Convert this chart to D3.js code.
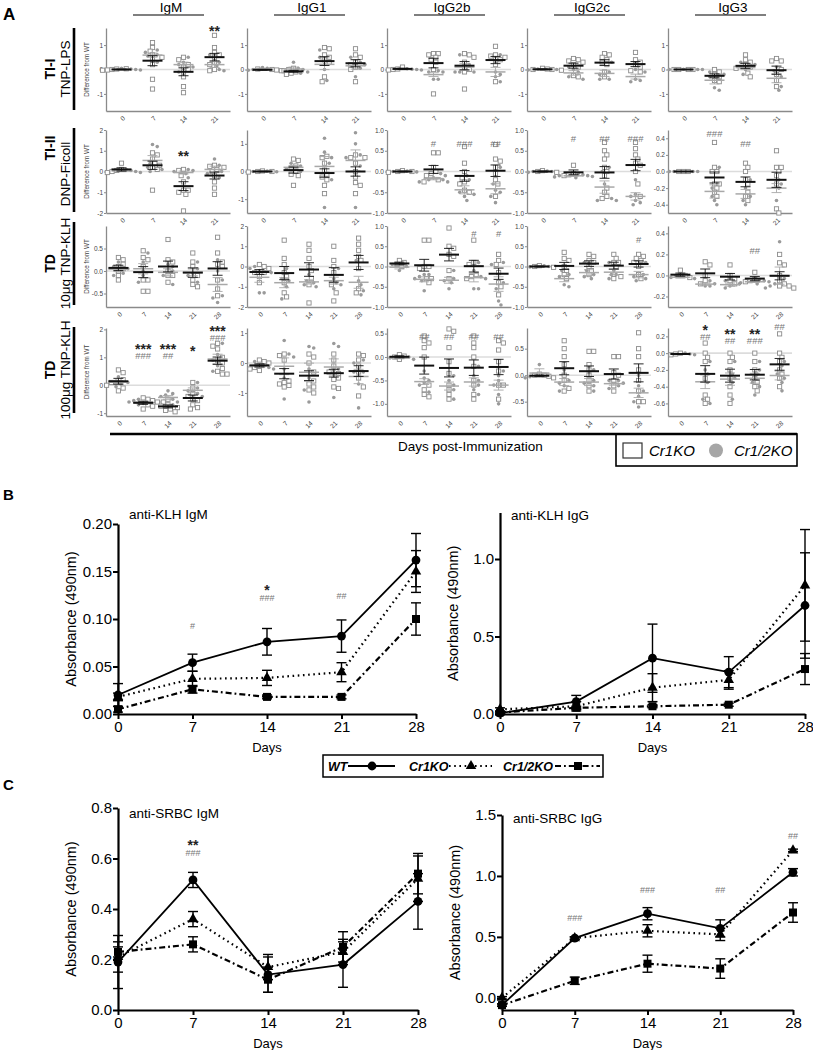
<!DOCTYPE html>
<html><head><meta charset="utf-8">
<script src="https://cdn.jsdelivr.net/npm/d3@7"></script>
<style>body{margin:0;background:#fff;}</style>
</head><body>
<svg id="c" width="813" height="1050" xmlns="http://www.w3.org/2000/svg"></svg>
<script>
// ---------------- DATA ----------------
const isotypes = ["IgM","IgG1","IgG2b","IgG2c","IgG3"];
const days4 = [0,7,14,21];
const days5 = [0,7,14,21,28];
const rowBold = ["TI-I","TI-II","TD","TD"];
const rowSub = ["TNP-LPS","DNP-Ficoll","10μg TNP-KLH","100μg TNP-KLH"];
const groupNames = ["Cr1KO","Cr1/2KO"];

// Panel A: difference from WT, per day; cr1 = Cr1KO (open squares), cr12 = Cr1/2KO (grey dots)
const r1_IgM_cr1 = [[0.02,-0.02,0.0,0.03,-0.03],[1.1,0.9,0.75,0.6,0.4,0.2,-0.4,-0.8,0.5],[0.5,0.4,0.2,0.0,-0.1,-0.3,-0.7,-0.95,0.1],[1.4,0.9,0.7,0.6,0.5,0.3,0.0,-0.05,0.2]];
const r1_IgM_cr12 = [[0.05,0.0,-0.02,0.02],[0.8,0.7,0.55,0.3,0.6],[0.5,0.3,0.1,-0.1,0.2],[0.6,0.3,0.0,-0.05,0.15]];
const r1_IgG1_cr1 = [[0.0,-0.05,0.02,-0.02],[-0.1,-0.15,0.0,-0.2,-0.05,0.05],[0.9,0.85,0.6,0.5,0.3,-0.3,-0.5,0.4],[0.85,0.6,0.5,0.3,0.0,-0.5,0.2,0.1]];
const r1_IgG1_cr12 = [[0.05,-0.03,0.0,0.08],[0.3,-0.1,0.0,-0.15,0.05],[0.8,0.5,0.2,-0.45,0.0],[0.5,0.3,-0.3,0.05,0.2]];
const r1_IgG2b_cr1 = [[0.1,0.0,-0.02,0.02],[0.65,0.65,0.6,0.5,0.4,0.3,-1.0,0.0],[0.65,0.6,0.5,0.3,0.1,-0.1,-0.8,0.0],[0.95,0.6,0.55,0.5,0.4,0.2,-0.5,0.4]];
const r1_IgG2b_cr12 = [[0.0,0.03,-0.02,0.01],[-0.1,-0.4,-0.4,-0.05,-0.1],[0.6,-0.1,-0.1,-0.1,0.2],[0.6,-0.1,-0.2,-0.3,-0.5]];
const r1_IgG2c_cr1 = [[0.0,0.05,-0.03,0.02,0.0],[0.45,0.4,0.35,0.3,0.2,0.1,-0.3,-0.25],[0.65,0.6,0.5,0.3,0.2,-0.1,-0.3,0.4],[0.7,0.4,0.2,0.1,-0.05,-0.1,0.3]];
const r1_IgG2c_cr12 = [[0.0,-0.02,0.02],[0.1,-0.4,-0.3,0.0,-0.1],[0.3,-0.4,-0.4,-0.2,-0.1],[-0.5,-0.45,-0.4,-0.1,0.0]];
const r1_IgG3_cr1 = [[0,0,0,0],[-0.1,-0.2,-0.3,-0.45,-0.5,0.0],[0.6,0.4,0.3,0.2,0.1,-0.15,-0.3,0.05],[0.45,0.35,0.35,0.0,-0.2,-0.45,-0.7]];
const r1_IgG3_cr12 = [[0,0,0,0.01],[-0.85,-0.75,-0.3,-0.2,-0.1],[0.3,0.2,0.0,-0.2,0.1],[-0.85,-0.7,-0.3,-0.05,0.1]];

const r2_IgM_cr1 = [[0.4,0.05,0.0,-0.05,0.1],[0.9,0.8,0.6,0.4,0.2,0.1,-0.9,0.3],[0.1,0.05,-0.2,-0.5,-0.9,-0.9,-1.0,-1.1,-1.9],[0.3,0.25,0.1,0.0,-0.2,-0.5,-0.8,-1.1,0.2]];
const r2_IgM_cr12 = [[0.1,0.0,-0.05,0.05],[1.3,1.2,0.4,0.2,0.1,0.0],[0.0,-0.1,-0.3,0.05,0.1],[0.6,0.3,0.0,-0.3,-0.1]];
const r2_IgG1_cr1 = [[0.0,0.02,-0.02,0.0],[0.45,0.4,0.2,0.1,-0.1,-0.15,-0.5,0.0],[0.55,0.5,0.3,0.05,-0.2,-0.3,-0.5,-0.8,-0.1],[0.6,0.5,0.3,0.0,-0.2,-0.4,-0.5,-0.8,0.5]];
const r2_IgG1_cr12 = [[0.0,0.02,-0.01],[0.3,0.1,0.0,0.2],[1.2,0.7,0.5,0.3,-0.3,-1.3],[1.4,1.0,0.6,0.5,0.2,-1.3]];
const r2_IgG2b_cr1 = [[0.0,0.02,-0.02,0.0],[0.45,0.45,0.1,0.0,-0.05,-0.1,-0.2,-0.25],[0.6,0.2,0.0,-0.15,-0.25,-0.3,-0.45,-0.5],[0.65,0.3,0.25,0.1,-0.05,-0.3,-0.6,-0.2]];
const r2_IgG2b_cr12 = [[0,-0.01,0.01],[-0.25,-0.25,-0.2,-0.15,-0.1,-0.2,-0.05],[-0.5,-0.6,-0.7,-0.55,-0.2,-0.1],[-0.45,-0.6,-0.75,-0.5,-0.3,0.1]];
const r2_IgG2c_cr1 = [[0.0,0.02,-0.02],[0.15,-0.05,-0.08,-0.1],[0.7,0.5,0.4,0.3,0.1,-0.1,-0.5,-0.6,-0.65,-0.4,0.0],[0.7,0.55,0.4,0.2,0.15,0.0,-0.3,-0.6,0.3]];
const r2_IgG2c_cr12 = [[0,-0.02,0.01,0],[-0.1,-0.12,-0.15,-0.1,-0.08,-0.13,-0.05],[0.0,-0.3,-0.65,-0.7,-0.7,0.1],[-0.55,-0.7,-0.8,-0.75,-0.2,-0.6]];
const r2_IgG3_cr1 = [[0,0,0],[0.35,0.05,0.0,-0.15,-0.2,-0.25,-0.3,-0.15,0.0],[0.1,0.05,0.0,-0.1,-0.15,-0.25,-0.35,-0.3],[0.25,0.05,0.0,-0.05,-0.15,-0.45,-0.5,0.05]];
const r2_IgG3_cr12 = [[0,0,0,0],[0.05,-0.2,-0.35,-0.4,-0.3],[-0.2,-0.3,-0.35,-0.4,-0.1],[-0.2,-0.35,-0.1,-0.15]];

const r3_IgM_cr1 = [[0.3,0.25,0.15,0.1,0.0,-0.1,-0.2,0.05],[0.45,0.3,0.25,0.1,-0.2,-0.45,-0.45,-0.2],[0.7,0.25,0.2,0.0,-0.1,-0.25,-0.1],[0.4,0.2,0.1,-0.1,-0.2,-0.3,-0.35],[0.75,0.4,0.2,0.15,0.1,-0.2,-0.55,-0.4]];
const r3_IgM_cr12 = [[0.2,0.05,-0.05,-0.1,0.1],[0.4,0.2,0.0,-0.25,-0.1],[0.15,0.0,-0.1,-0.3,0.1],[0.2,0.05,-0.1,-0.25,-0.05],[0.25,-0.55,-0.6,-0.7,-0.2,0.0]];
const r3_IgG1_cr1 = [[0.1,0.0,-0.1,-0.3,-0.5,-0.8,-0.3],[1.3,0.4,0.1,-0.3,-0.5,-0.8,-1.5,-1.3],[1.1,0.8,0.4,0.0,-0.2,-0.6,-0.9,-1.8],[1.0,0.3,0.0,-0.3,-0.9,-1.3,-1.7],[1.4,1.1,0.8,0.3,-0.1,-1.3,-1.1,0.5]];
const r3_IgG1_cr12 = [[-0.2,-0.3,-1.3,-1.3,0.0,-0.1],[-0.1,-0.7,-1.0,-1.6,-0.6],[-0.4,-0.8,-1.0,-0.7,-0.9],[-0.1,-0.8,-1.1,-0.6,-0.9],[-0.7,-1.2,-1.4,-0.9,0.3]];
const r3_IgG2b_cr1 = [[0.15,0.1,0.05,0.0],[0.65,0.65,0.0,0.0,-0.05,-0.3,-0.4,-0.3],[0.95,0.5,0.45,0.3,0.25,-0.1,-0.3],[0.65,0.1,0.05,-0.2,-0.3,-0.25],[0.3,0.15,0.05,-0.15,-0.4,-0.5,-0.7]];
const r3_IgG2b_cr12 = [[0.05,0.0,-0.1],[-0.2,-0.2,-0.3,-0.35,-0.25,-0.6],[-0.1,-0.35,-0.4,-0.55,-0.3],[0.1,-0.1,-0.25,-0.3,-0.55,-0.55],[0.1,-0.4,-0.55,-0.95,-0.85,0.05]];
const r3_IgG2c_cr1 = [[0.02,0.0,-0.02],[0.35,0.2,0.15,0.0,-0.1,-0.2,-0.3],[0.3,0.25,0.15,0.1,0.0,-0.1,-0.2],[0.3,0.2,0.1,0.1,0.0,-0.25,-0.3],[0.25,0.2,0.15,0.1,0.0,-0.2,-0.3,0.3]];
const r3_IgG2c_cr12 = [[0.0,0.02,-0.01],[-0.1,-0.2,-0.45,-0.5,-0.25],[0.1,-0.1,-0.2,-0.25,-0.3],[0.1,-0.1,-0.2,-0.3,-0.2],[0.1,-0.2,-0.3,-0.35,-0.25]];
const r3_IgG3_cr1 = [[0.05,0.0,-0.02,0.0],[0.13,0.1,0.0,-0.05,-0.08],[0.1,0.0,-0.03,-0.05,-0.08],[0.03,-0.04,-0.05,-0.06],[0.2,0.12,0.1,0.0,-0.05,-0.1,-0.1,-0.08,-0.12]];
const r3_IgG3_cr12 = [[0.0,-0.02,-0.03],[-0.08,-0.1,-0.05,-0.1],[-0.05,-0.1,-0.12,-0.08],[-0.04,-0.06,-0.07,-0.08,-0.05],[0.32,-0.03,-0.08,-0.12,-0.1]];

const r4_IgM_cr1 = [[0.55,0.45,0.2,0.1,0.0,-0.1,-0.2],[-0.45,-0.5,-0.6,-0.7,-0.85,-0.55,-0.75],[-0.5,-0.6,-0.7,-0.8,-0.9,-0.95,-0.85,-0.75],[0.1,-0.1,-0.3,-0.4,-0.5,-0.7,-0.85,-0.8,-0.55],[1.5,1.4,1.3,1.0,0.9,0.8,0.6,0.5,0.4,0.4]];
const r4_IgM_cr12 = [[0.3,0.1,0.05,-0.05,0.15],[-0.5,-0.55,-0.6,-0.65,-0.7,-0.6],[-0.2,-0.3,-0.4,-0.6,-0.7,-0.5,-0.35],[0.1,-0.2,-0.3,-0.4,-0.1],[1.5,1.1,0.9,0.7,0.5]];
const r4_IgG1_cr1 = [[0.1,0.05,0.0,-0.1,-0.15,-0.2,-0.25],[0.3,0.25,0.1,-0.6,-0.7,-0.75,-0.8,-0.65],[0.3,0.2,0.0,-0.3,-0.6,-0.7,-0.9,-1.0,-0.8],[0.3,0.1,-0.1,-0.3,-0.5,-0.8,-0.85,-0.55,-0.35],[0.3,0.25,0.1,-0.1,-0.5,-0.8,-1.1,-0.3]];
const r4_IgG1_cr12 = [[0.05,-0.1,-0.15,-0.2],[0.75,0.3,-0.2,-1.2,-0.5,0.2],[0.55,0.5,-0.2,-1.3,-0.5,-0.9],[0.65,0.55,-0.2,-1.15,-0.4,-0.25],[0.1,-0.3,-0.7,-1.5,-0.3,0.0]];
const r4_IgG2b_cr1 = [[0.05,0.0,-0.05,0.02],[0.45,0.35,0.3,0.2,0.0,-0.8,-0.85,-0.7,-0.6],[0.6,0.55,0.2,-0.1,-0.35,-0.6,-0.8,-0.9,-0.7],[0.45,0.3,0.2,0.0,-0.2,-0.5,-0.8,-0.9,-0.6],[0.35,0.3,0.15,-0.1,-0.3,-0.6,-0.9,-0.6]];
const r4_IgG2b_cr12 = [[0.0,-0.02,-0.05],[-0.3,-0.5,-0.55,-0.6,-0.75,-0.45],[-0.4,-0.6,-0.7,-0.9,-0.5],[-0.4,-0.5,-0.6,-0.7,-0.8,-0.2],[-0.3,-0.5,-0.6,-0.8,-1.0,-0.4]];
const r4_IgG2c_cr1 = [[0.0,-0.02,-0.05,0.02,0.0],[0.65,0.5,0.35,0.2,0.0,-0.1,-0.25,-0.3],[0.45,0.45,0.2,0.0,-0.1,-0.2,-0.3,0.1],[0.35,0.35,0.05,0.0,-0.1,-0.2,-0.3],[0.8,0.5,0.35,0.1,-0.1,-0.3,-0.5,-0.5]];
const r4_IgG2c_cr12 = [[0.2,-0.05,-0.03],[0.1,-0.15,-0.2,-0.3,-0.1],[0.1,-0.1,-0.2,-0.3,-0.15],[-0.1,-0.15,-0.2,-0.25,-0.1],[0.0,-0.3,-0.4,-0.5,-0.6,-0.2]];
const r4_IgG3_cr1 = [[0.0,-0.01,-0.02],[0.12,0.0,-0.05,-0.1,-0.3,-0.5,-0.6,-0.55],[0.0,-0.05,-0.1,-0.2,-0.4,-0.5,-0.6,-0.3],[0.0,-0.1,-0.2,-0.3,-0.4,-0.45,-0.35],[0.23,0.0,-0.05,-0.1,-0.25,-0.3,-0.4,-0.2]];
const r4_IgG3_cr12 = [[-0.02,-0.01,0.0],[-0.1,-0.2,-0.35,-0.55,-0.6,-0.25],[-0.1,-0.25,-0.3,-0.55,-0.35],[-0.1,-0.2,-0.25,-0.35,-0.4,-0.5],[-0.1,-0.15,-0.3,-0.35,-0.45,-0.25]];

// y-axis tick labels of panel A (row x isotype)
const yTicksA = [
 [[-1,0,1],[-1,0,1],[-1,0,1],[-1,0,1],[-1,0,1]],
 [[-2,-1,0,1,2],[-1,0,1],[-1,-0.5,0,0.5,1],[-1,-0.5,0,0.5,1],[-0.4,-0.2,0,0.2,0.4]],
 [[-0.5,0,0.5],[-2,-1,0,1,2],[-1,-0.5,0,0.5,1],[-1,-0.5,0,0.5,1],[-0.2,0,0.2,0.4]],
 [[-1,0,1,2],[-1,0,1],[-1,-0.5,0,0.5],[-0.5,0,0.5],[-0.6,-0.4,-0.2,0,0.2]]
];
// significance marks in panel A: [row, isotype, day index, stars, hashes, anchor value]
const sigA = [
 [0,0,3,"**","",1.24],
 [1,0,2,"**","",0.35],
 [1,2,1,"","#",0.60],[1,2,2,"","###",0.60],[1,2,3,"","##",0.60],
 [1,3,1,"","#",0.72],[1,3,2,"","##",0.72],[1,3,3,"","###",0.72],
 [1,4,1,"","###",0.42],[1,4,2,"","##",0.30],
 [2,2,3,"","#",0.72],[2,2,4,"","#",0.72],
 [2,3,4,"","#",0.57],
 [2,4,3,"","##",0.20],
 [3,0,1,"***","###",0.94],[3,0,2,"***","##",0.94],[3,0,3,"*","",0.94],[3,0,4,"***","###",1.60],
 [3,2,1,"","##",0.37],[3,2,2,"","##",0.37],[3,2,3,"","##",0.37],[3,2,4,"","##",0.37],
 [3,4,1,"*","##",0.16],[3,4,2,"**","##",0.11],[3,4,3,"**","###",0.11],[3,4,4,"","##",0.28]
];

// Panels B and C: absorbance (490nm), mean and error
const bcDays = [0,7,14,21,28];
const seriesNames = ["WT","Cr1KO","Cr1/2KO"];
const klhIgM_WT = [0.020,0.054,0.076,0.082,0.162], klhIgM_WT_err = [0.012,0.009,0.014,0.017,0.028];
const klhIgM_Cr1 = [0.018,0.037,0.038,0.044,0.150], klhIgM_Cr1_err = [0.004,0.008,0.008,0.010,0.022];
const klhIgM_Cr12 = [0.005,0.026,0.018,0.018,0.100], klhIgM_Cr12_err = [0.003,0.004,0.002,0.002,0.017];
const klhIgG_WT = [0.005,0.08,0.36,0.27,0.70], klhIgG_WT_err = [0.01,0.04,0.22,0.10,0.34];
const klhIgG_Cr1 = [0.03,0.05,0.17,0.22,0.83], klhIgG_Cr1_err = [0.01,0.03,0.09,0.06,0.36];
const klhIgG_Cr12 = [0.01,0.04,0.05,0.06,0.29], klhIgG_Cr12_err = [0.005,0.01,0.01,0.01,0.10];
const srbcIgM_WT = [0.19,0.515,0.14,0.18,0.43], srbcIgM_WT_err = [0.105,0.03,0.07,0.09,0.11];
const srbcIgM_Cr1 = [0.21,0.36,0.17,0.23,0.52], srbcIgM_Cr1_err = [0.06,0.03,0.05,0.05,0.09];
const srbcIgM_Cr12 = [0.23,0.26,0.12,0.25,0.54], srbcIgM_Cr12_err = [0.02,0.03,0.05,0.06,0.08];
const srbcIgG_WT = [-0.06,0.49,0.69,0.57,1.03], srbcIgG_WT_err = [0.01,0.01,0.05,0.07,0.03];
const srbcIgG_Cr1 = [0.0,0.49,0.55,0.52,1.21], srbcIgG_Cr1_err = [0.01,0.01,0.05,0.05,0.01];
const srbcIgG_Cr12 = [-0.06,0.14,0.28,0.24,0.70], srbcIgG_Cr12_err = [0.01,0.03,0.07,0.08,0.08];
// significance marks: [day index, stars, hashes, anchor value]
const sigKlhIgM = [[1,"","#",0.089],[2,"*","###",0.119],[3,"","##",0.121]];
const sigKlhIgG = [];
const sigSrbcIgM = [[1,"**","###",0.61]];
const sigSrbcIgG = [[1,"","###",0.63],[2,"","###",0.86],[3,"","##",0.86],[4,"","##",1.30]];

// ---------------- DRAWING ----------------
const FONT = "'Liberation Sans', Arial, Helvetica, sans-serif";
const svg = d3.select("#c").attr("font-family", FONT);
const fmtM = f => { const ff = d3.format(f); return v => ff(v).replace("\u2212","-"); };

// stacked significance label (stars over hashes) as a single text element
function sigLabel(g, cx, ay, stars, hashes, starSize, hashSize, gap){
  const t = g.append("text").attr("text-anchor","middle");
  if(stars && hashes){
    t.attr("x",cx).attr("y",ay-gap);
    t.append("tspan").attr("x",cx).attr("font-size",starSize).attr("font-weight","bold").attr("fill","#222").text(stars);
    t.append("tspan").attr("x",cx).attr("dy",gap).attr("font-size",hashSize).attr("fill","#777").text(hashes);
  } else if(stars){
    t.attr("x",cx).attr("y",ay-3).attr("font-size",starSize).attr("font-weight","bold").attr("fill","#222").text(stars);
  } else {
    t.attr("x",cx).attr("y",ay).attr("font-size",hashSize).attr("fill","#777").text(hashes);
  }
}

const panelA = [
 [[r1_IgM_cr1,r1_IgM_cr12],[r1_IgG1_cr1,r1_IgG1_cr12],[r1_IgG2b_cr1,r1_IgG2b_cr12],[r1_IgG2c_cr1,r1_IgG2c_cr12],[r1_IgG3_cr1,r1_IgG3_cr12]],
 [[r2_IgM_cr1,r2_IgM_cr12],[r2_IgG1_cr1,r2_IgG1_cr12],[r2_IgG2b_cr1,r2_IgG2b_cr12],[r2_IgG2c_cr1,r2_IgG2c_cr12],[r2_IgG3_cr1,r2_IgG3_cr12]],
 [[r3_IgM_cr1,r3_IgM_cr12],[r3_IgG1_cr1,r3_IgG1_cr12],[r3_IgG2b_cr1,r3_IgG2b_cr12],[r3_IgG2c_cr1,r3_IgG2c_cr12],[r3_IgG3_cr1,r3_IgG3_cr12]],
 [[r4_IgM_cr1,r4_IgM_cr12],[r4_IgG1_cr1,r4_IgG1_cr12],[r4_IgG2b_cr1,r4_IgG2b_cr12],[r4_IgG2c_cr1,r4_IgG2c_cr12],[r4_IgG3_cr1,r4_IgG3_cr12]]
];
const rowDays = [days4, days4, days5, days5];
const colX = [106,247,387,527,668], panelW = 124;
const rowTop = [28,130,226,328], rowBot = [111,213,307,416];
const yDomA = [
 [[-1.7,1.7],[-1.7,1.7],[-1.7,1.7],[-1.7,1.7],[-1.7,1.7]],
 [[-2,2],[-1.5,1.5],[-1,1],[-1,1],[-0.5,0.5]],
 [[-0.8,1.0],[-2,2],[-1,1],[-1,1],[-0.3,0.47]],
 [[-1.1,2.05],[-1.77,1.17],[-1.26,0.62],[-0.77,0.89],[-0.75,0.3]]
];
const yFmtA = [["d","d","d","d","d"],["d","d",".1f",".1f",".1f"],[".1f","d",".1f",".1f",".1f"],["d","d",".1f",".1f",".1f"]];

// Letters
svg.append("text").attr("x",3).attr("y",20).attr("font-size",17).attr("font-weight","bold").text("A");
svg.append("text").attr("x",3).attr("y",500).attr("font-size",15).attr("font-weight","bold").text("B");
svg.append("text").attr("x",3).attr("y",790).attr("font-size",15).attr("font-weight","bold").text("C");

// Column headers
isotypes.forEach((iso,c)=>{
  const cx = colX[c] + panelW/2;
  svg.append("text").attr("x",cx+3).attr("y",12).attr("text-anchor","middle").attr("font-size",13.5).text(iso);
  svg.append("line").attr("x1",cx-35).attr("x2",cx+36).attr("y1",15).attr("y2",15).attr("stroke","#555").attr("stroke-width",1.6);
});

// Row labels
const boldOffset = [0,-22,0,0];
rowBold.forEach((lab,r)=>{
  const bt = [28,128,222,327][r], bb = [110,212,305,413][r];
  const mid = (bt+bb)/2;
  svg.append("line").attr("x1",74).attr("x2",74).attr("y1",bt).attr("y2",bb).attr("stroke","#000").attr("stroke-width",2.6);
  svg.append("text").attr("transform",`translate(50,${mid+boldOffset[r]}) rotate(-90)`).attr("text-anchor","middle").attr("dy","0.35em")
    .attr("font-size",14).attr("font-weight","bold").text(lab);
  svg.append("text").attr("transform",`translate(65.5,${mid+(r===1?4:0)}) rotate(-90)`).attr("text-anchor","middle").attr("dy","0.35em")
    .attr("font-size",13.5).text(rowSub[r]);
});

function swarm(pts, cx, yS, d){
  const placed=[];
  pts.slice().sort((a,b)=>b.v-a.v).forEach(p=>{
    const py=yS(p.v);
    let done=false;
    for(let k=0;k<40 && !done;k++){
      const off = k===0?0:((k%2)?1:-1)*Math.ceil(k/2)*d*0.55;
      const px=cx+off;
      if(!placed.some(q=>(q.x-px)**2+(q.y-py)**2 < d*d)){placed.push({x:px,y:py,t:p.t});done=true;}
    }
    if(!done) placed.push({x:cx,y:py,t:p.t});
  });
  return placed;
}

panelA.forEach((row,r)=>{
  row.forEach((pd,c)=>{
    const days=rowDays[r];
    const x=d3.scalePoint().domain(days).range([colX[c],colX[c]+panelW]).padding(0.5);
    const y=d3.scaleLinear().domain(yDomA[r][c]).range([rowBot[r],rowTop[r]]);
    const g=svg.append("g");
    g.append("line").attr("x1",colX[c]).attr("x2",colX[c]+panelW).attr("y1",y(0)).attr("y2",y(0)).attr("stroke","#dcdcdc").attr("stroke-width",1.6);
    const ya=g.append("g").attr("transform",`translate(${colX[c]},0)`)
      .call(d3.axisLeft(y).tickValues(yTicksA[r][c]).tickFormat(fmtM(yFmtA[r][c])).tickSize(2).tickSizeOuter(0));
    ya.attr("font-family",FONT);
    ya.select(".domain").attr("stroke","#8a8a8a").attr("stroke-width",1.3);
    ya.selectAll(".tick line").attr("stroke","#8a8a8a");
    ya.selectAll("text").attr("font-size",6.5).attr("fill","#444").attr("x",-3);
    const xa=g.append("g").attr("transform",`translate(0,${rowBot[r]})`)
      .call(d3.axisBottom(x).tickSize(0).tickSizeOuter(0));
    xa.attr("font-family",FONT);
    xa.select(".domain").attr("stroke","#8a8a8a").attr("stroke-width",1.3);
    xa.selectAll("text").attr("font-size",6.5).attr("fill","#444").attr("y",0).attr("dy","0.35em")
      .attr("text-anchor","end").attr("transform","translate(2,6) rotate(-45)");
    if(c===0){
      svg.append("text").attr("transform",`translate(87,${(rowTop[r]+rowBot[r])/2}) rotate(-90)`).attr("text-anchor","middle")
        .attr("dy","0.35em").attr("font-size",6.3).attr("fill","#444").text("Difference from WT");
    }
    days.forEach((d,i)=>{
      const cx=x(d);
      const pts=[...pd[0][i].map(v=>({v,t:0})),...pd[1][i].map(v=>({v,t:1}))];
      const placed=swarm(pts,cx,y,4.3);
      placed.forEach(p=>{
        if(p.t===0) g.append("rect").attr("x",p.x-2.1).attr("y",p.y-2.1).attr("width",4.2).attr("height",4.2)
          .attr("fill","#fff").attr("stroke","#8c8c8c").attr("stroke-width",0.9);
        else g.append("circle").attr("cx",p.x).attr("cy",p.y).attr("r",1.8).attr("fill","#9a9a9a");
      });
      // mean +- SEM (grey for Cr1/2KO, black for Cr1KO)
      [[1,"#a8a8a8",1.5],[0,"#111",2]].forEach(([t,col,w])=>{
        const vals=pd[t][i];
        const m=d3.mean(vals); const sd=d3.deviation(vals)||0; const se=sd/Math.sqrt(vals.length);
        g.append("line").attr("x1",cx-10).attr("x2",cx+10).attr("y1",y(m)).attr("y2",y(m)).attr("stroke",col).attr("stroke-width",w);
        if(se>0.004){
          g.append("line").attr("x1",cx).attr("x2",cx).attr("y1",y(m-se)).attr("y2",y(m+se)).attr("stroke",col).attr("stroke-width",0.9);
          [m-se,m+se].forEach(v=>g.append("line").attr("x1",cx-5).attr("x2",cx+5).attr("y1",y(v)).attr("y2",y(v)).attr("stroke",col).attr("stroke-width",0.9));
        }
      });
    });
    sigA.filter(s=>s[0]===r&&s[1]===c).forEach(s=>{
      sigLabel(g, x(days[s[2]]), y(s[5]), s[3], s[4], 14, 9.5, 5);
    });
  });
});

// bottom line, label and legend of A
svg.append("line").attr("x1",110).attr("x2",797).attr("y1",434).attr("y2",434).attr("stroke","#000").attr("stroke-width",2.6);
svg.append("text").attr("x",398).attr("y",451).attr("font-size",13.5).text("Days post-Immunization");
svg.append("rect").attr("x",616).attr("y",434).attr("width",181).attr("height",32).attr("fill","none").attr("stroke","#000").attr("stroke-width",1.6);
svg.append("rect").attr("x",623).attr("y",443).attr("width",19).attr("height",15).attr("fill","#fff").attr("stroke","#333").attr("stroke-width",1.2);
svg.append("text").attr("x",649).attr("y",456).attr("font-size",15).attr("font-style","italic").text(groupNames[0]);
svg.append("circle").attr("cx",716).attr("cy",450.5).attr("r",7).attr("fill","#a6a6a6");
svg.append("text").attr("x",734).attr("y",456).attr("font-size",15).attr("font-style","italic").text(groupNames[1]);

// ---------- Line charts ----------
const styles = [
  {dash:null, marker:"circle"},
  {dash:"1.6,3.6", marker:"triangle"},
  {dash:"6,3,1.8,3", marker:"square"}
];
function marker(g, type, cx, cy, s){
  if(type==="circle") g.append("circle").attr("cx",cx).attr("cy",cy).attr("r",4.4*s).attr("fill","#000");
  else if(type==="square") g.append("rect").attr("x",cx-4*s).attr("y",cy-4*s).attr("width",8*s).attr("height",8*s).attr("fill","#000");
  else g.append("path").attr("transform",`translate(${cx},${cy})`).attr("d",d3.symbol(d3.symbolTriangle,48*s*s)()).attr("fill","#000");
}
function lineChart(o){
  const g=svg.append("g");
  const x=d3.scaleLinear().domain([0,28]).range(o.xr);
  const y=d3.scaleLinear().domain(o.yd).range(o.yr);
  const ya=g.append("g").attr("transform",`translate(${o.xr[0]},0)`)
    .call(d3.axisLeft(y).tickValues(o.yt).tickFormat(fmtM(o.yf)).tickSize(5).tickSizeOuter(0));
  ya.attr("font-family",FONT);
  ya.select(".domain").attr("stroke","#000").attr("stroke-width",2.2);
  ya.selectAll(".tick line").attr("stroke","#000").attr("stroke-width",2);
  ya.selectAll("text").attr("font-size",15).attr("fill","#000").attr("x",-6);
  const xa=g.append("g").attr("transform",`translate(0,${o.yr[0]})`)
    .call(d3.axisBottom(x).tickValues(bcDays).tickSize(5).tickSizeOuter(0));
  xa.attr("font-family",FONT);
  xa.select(".domain").attr("stroke","#000").attr("stroke-width",2.2);
  xa.selectAll(".tick line").attr("stroke","#000").attr("stroke-width",2);
  xa.selectAll("text").attr("font-size",15).attr("fill","#000").attr("y",7);
  g.append("text").attr("x",(o.xr[0]+o.xr[1])/2).attr("y",o.yr[0]+38).attr("text-anchor","middle").attr("font-size",13).text("Days");
  g.append("text").attr("transform",`translate(${o.xr[0]-47},${(o.yr[0]+o.yr[1])/2}) rotate(-90)`).attr("text-anchor","middle")
    .attr("dy","0.35em").attr("font-size",14.5).text("Absorbance (490nm)");
  g.append("text").attr("x",o.xr[0]+11).attr("y",o.yr[1]+o.titleDy).attr("font-size",13.5).text(o.title);
  const line=d3.line().x((d,i)=>x(bcDays[i])).y(d=>y(d));
  [2,1,0].forEach(si=>{
    const vals=o.series[si][0], errs=o.series[si][1];
    const p=g.append("path").attr("d",line(vals)).attr("fill","none").attr("stroke","#000").attr("stroke-width",si===0?1.8:2.2);
    if(styles[si].dash) p.attr("stroke-dasharray",styles[si].dash);
    vals.forEach((v,i)=>{
      const cx=x(bcDays[i]), e=errs[i];
      g.append("line").attr("x1",cx).attr("x2",cx).attr("y1",y(v-e)).attr("y2",y(v+e)).attr("stroke","#000").attr("stroke-width",1.4);
      [v-e,v+e].forEach(w=>g.append("line").attr("x1",cx-5).attr("x2",cx+5).attr("y1",y(w)).attr("y2",y(w)).attr("stroke","#000").attr("stroke-width",1.4));
      marker(g,styles[si].marker,cx,y(v),1);
    });
  });
  o.sig.forEach(s=>{
    sigLabel(g, x(bcDays[s[0]]), y(s[3]), s[1], s[2], 14, 9, 6);
  });
}
lineChart({xr:[118,416], yd:[0,0.2], yr:[714,524], yt:[0,0.05,0.1,0.15,0.2], yf:".2f", title:"anti-KLH IgM", titleDy:-5,
  series:[[klhIgM_WT,klhIgM_WT_err],[klhIgM_Cr1,klhIgM_Cr1_err],[klhIgM_Cr12,klhIgM_Cr12_err]], sig:sigKlhIgM});
lineChart({xr:[500,805], yd:[0,1.3], yr:[714,512.5], yt:[0,0.5,1.0], yf:".1f", title:"anti-KLH IgG", titleDy:7,
  series:[[klhIgG_WT,klhIgG_WT_err],[klhIgG_Cr1,klhIgG_Cr1_err],[klhIgG_Cr12,klhIgG_Cr12_err]], sig:sigKlhIgG});
lineChart({xr:[118,418], yd:[0,0.8], yr:[1010,808], yt:[0,0.2,0.4,0.6,0.8], yf:".1f", title:"anti-SRBC IgM", titleDy:10,
  series:[[srbcIgM_WT,srbcIgM_WT_err],[srbcIgM_Cr1,srbcIgM_Cr1_err],[srbcIgM_Cr12,srbcIgM_Cr12_err]], sig:sigSrbcIgM});
lineChart({xr:[502,793], yd:[-0.1,1.5], yr:[1010,815], yt:[0,0.5,1.0,1.5], yf:".1f", title:"anti-SRBC IgG", titleDy:8,
  series:[[srbcIgG_WT,srbcIgG_WT_err],[srbcIgG_Cr1,srbcIgG_Cr1_err],[srbcIgG_Cr12,srbcIgG_Cr12_err]], sig:sigSrbcIgG});

// Legend B
const lg=svg.append("g");
lg.append("rect").attr("x",323).attr("y",755).attr("width",280).attr("height",22).attr("fill","#fff").attr("stroke","#000").attr("stroke-width",1.5);
const legItems=[{tx:328,l1:348,l2:395,mx:372},{tx:409,l1:449,l2:492,mx:471},{tx:503,l1:555,l2:600,mx:578}];
legItems.forEach((it,i)=>{
  lg.append("text").attr("x",it.tx).attr("y",771).attr("font-size",12.5).attr("font-weight","bold").attr("font-style","italic").text(seriesNames[i]);
  const ln=lg.append("line").attr("x1",it.l1).attr("x2",it.l2).attr("y1",766).attr("y2",766).attr("stroke","#000").attr("stroke-width",2.2);
  if(styles[i].dash) ln.attr("stroke-dasharray",styles[i].dash);
  marker(lg,styles[i].marker,it.mx,766,1);
});
</script>
</body></html>
